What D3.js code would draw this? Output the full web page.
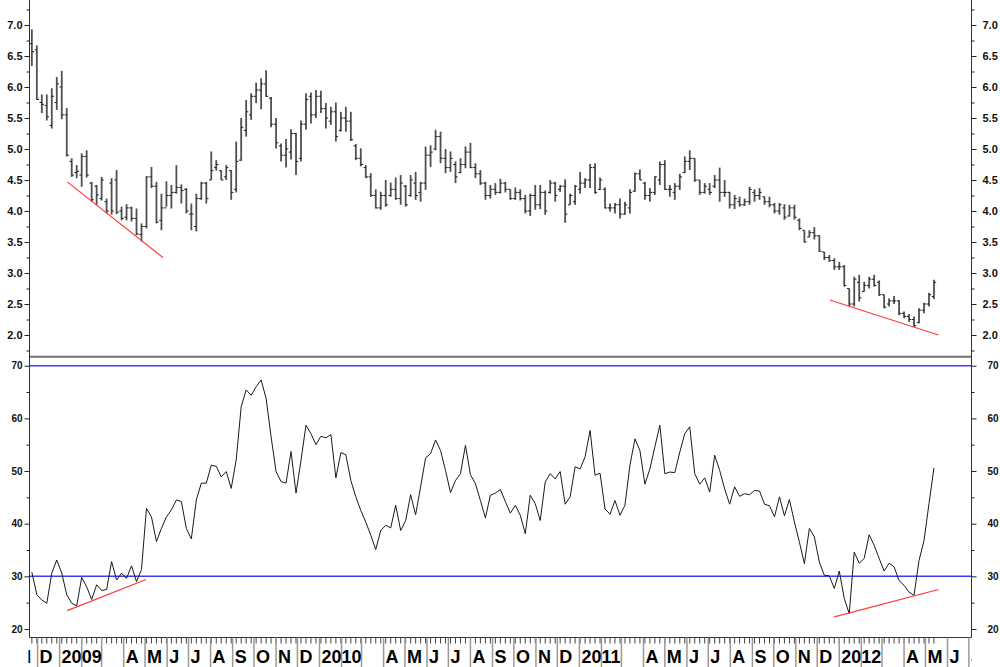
<!DOCTYPE html>
<html lang="en">
<head>
<meta charset="utf-8">
<script src="https://cdn.jsdelivr.net/npm/d3@7"></script>
<style>
    body {
        margin: 0;
        background: #fff;
    }
    svg {
        display: block;
        font-family: Arial, 'Liberation Sans', sans-serif;
    }
    .frame {
        stroke: #333;
        stroke-width: 1;
    }
    .separator {
        stroke: #707070;
        stroke-width: 2;
    }
    .bar-range {
        stroke: #505050;
        stroke-width: 1.8;
    }
    .bar-tick {
        stroke: #1e1e1e;
        stroke-width: 1;
    }
    .rsi-line {
        fill: none;
        stroke: #1a1a1a;
        stroke-width: 1;
    }
    .level {
        stroke: #3c3cff;
        stroke-width: 1.5;
    }
    .trend {
        stroke: #ff3a3a;
        stroke-width: 1.2;
    }
    .price-axis text {
        font-family: Arial, 'Liberation Sans', sans-serif;
        font-size: 11px;
        font-weight: bold;
        fill: #111;
    }
    .rsi-axis text {
        font-family: Arial, 'Liberation Sans', sans-serif;
        font-size: 10px;
        font-weight: bold;
        fill: #111;
    }
    .rsi-axis.right text {
        font-family: 'Liberation Sans Narrow', 'Arial Narrow', Arial, sans-serif;
    }
    .week-tick {
        stroke: #444;
        stroke-width: 1;
    }
    .month-tick {
        stroke: #9a9a9a;
        stroke-width: 1.5;
    }
    .month-label {
        font-size: 18px;
        font-weight: bold;
        fill: #000;
    }
</style>
</head>
<body>
<script>
    // weekly bars, first week of the chart
    var firstWeek = new Date(2008, 10, 23);

    var openP = [
        6.70, 6.60, 5.75, 5.70, 5.38, 5.75, 6.00, 5.55, 4.80, 4.62,
        4.58, 4.88, 4.45, 4.40, 4.20, 4.15, 4.45, 4.50, 4.00, 3.90,
        4.05, 3.88, 3.62, 3.75, 4.55, 4.40, 3.85, 4.05, 4.25, 4.30,
        4.38, 4.35, 3.95, 3.75, 4.20, 4.45, 4.50, 4.70, 4.65, 4.55,
        4.65, 4.35, 4.82, 5.30, 5.55, 5.85, 5.95, 6.05, 5.82, 5.40,
        5.05, 4.90, 4.95, 5.25, 4.85, 5.40, 5.85, 5.55, 5.85, 5.65,
        5.45, 5.60, 5.30, 5.50, 5.45, 5.05, 4.85, 4.70, 4.55, 4.25,
        4.05, 4.25, 4.25, 4.35, 4.20, 4.40, 4.25, 4.45, 4.30, 4.45,
        4.90, 5.00, 5.20, 4.85, 4.70, 4.75, 4.62, 4.75, 4.95, 4.70,
        4.60, 4.45, 4.25, 4.35, 4.30, 4.45, 4.35, 4.20, 4.30, 4.20,
        4.00, 4.25, 4.10, 4.30, 4.30, 4.45, 4.35, 4.40, 4.10, 4.15,
        4.35, 4.45, 4.50, 4.70, 4.35, 4.35, 4.05, 4.05, 4.10, 3.95,
        4.05, 4.32, 4.60, 4.45, 4.25, 4.30, 4.50, 4.75, 4.35, 4.30,
        4.40, 4.62, 4.80, 4.85, 4.50, 4.30, 4.35, 4.40, 4.50, 4.30,
        4.30, 4.10, 4.15, 4.10, 4.15, 4.30, 4.25, 4.23, 4.15, 4.10,
        4.00, 4.05, 3.92, 4.05, 3.85, 3.69, 3.58, 3.65, 3.60, 3.34,
        3.25, 3.20, 3.10, 3.10, 2.75, 2.50, 2.85, 2.70, 2.80, 2.90,
        2.85, 2.65, 2.50, 2.55, 2.55, 2.35, 2.30, 2.25, 2.20, 2.40,
        2.50, 2.62
    ];
    var highP = [
        6.93, 6.67, 5.88, 5.88, 5.98, 6.16, 6.26, 5.66, 4.85, 4.74,
        4.93, 4.98, 4.47, 4.42, 4.55, 4.20, 4.53, 4.66, 4.07, 4.11,
        4.07, 4.04, 3.80, 4.56, 4.71, 4.47, 4.28, 4.48, 4.42, 4.74,
        4.43, 4.37, 4.12, 4.28, 4.47, 4.47, 4.96, 4.82, 4.66, 4.74,
        4.66, 5.12, 5.50, 5.79, 5.90, 6.07, 6.14, 6.27, 5.84, 5.50,
        5.09, 5.16, 5.32, 5.26, 5.46, 5.90, 5.91, 5.95, 5.94, 5.74,
        5.68, 5.75, 5.60, 5.68, 5.60, 5.08, 5.01, 4.74, 4.61, 4.35,
        4.31, 4.50, 4.46, 4.54, 4.58, 4.42, 4.58, 4.63, 4.47, 5.04,
        5.06, 5.31, 5.28, 5.00, 4.96, 4.80, 4.85, 5.04, 5.10, 4.77,
        4.66, 4.47, 4.42, 4.45, 4.52, 4.47, 4.35, 4.38, 4.35, 4.26,
        4.28, 4.42, 4.42, 4.33, 4.50, 4.47, 4.42, 4.51, 4.28, 4.42,
        4.63, 4.53, 4.76, 4.77, 4.54, 4.38, 4.12, 4.13, 4.20, 4.15,
        4.35, 4.62, 4.67, 4.47, 4.37, 4.56, 4.80, 4.82, 4.42, 4.45,
        4.60, 4.88, 4.98, 4.85, 4.50, 4.45, 4.45, 4.58, 4.70, 4.50,
        4.31, 4.26, 4.23, 4.20, 4.39, 4.35, 4.37, 4.23, 4.23, 4.13,
        4.13, 4.11, 4.10, 4.10, 3.88, 3.69, 3.69, 3.74, 3.61, 3.34,
        3.29, 3.24, 3.18, 3.13, 2.75, 2.94, 2.97, 2.86, 2.94, 2.97,
        2.88, 2.65, 2.59, 2.63, 2.56, 2.38, 2.34, 2.30, 2.43, 2.52,
        2.68, 2.89
    ];
    var lowP = [
        6.34, 5.79, 5.58, 5.46, 5.33, 5.63, 5.48, 4.88, 4.55, 4.53,
        4.39, 4.54, 4.15, 4.10, 4.17, 3.96, 3.94, 3.95, 3.85, 3.85,
        3.83, 3.61, 3.51, 3.72, 4.37, 3.80, 3.69, 4.07, 4.04, 4.28,
        4.12, 3.96, 3.69, 3.67, 4.18, 4.12, 4.50, 4.65, 4.50, 4.50,
        4.18, 4.30, 4.81, 5.20, 5.47, 5.74, 5.64, 5.84, 5.35, 5.01,
        4.80, 4.70, 4.83, 4.58, 4.80, 5.31, 5.41, 5.50, 5.58, 5.33,
        5.39, 5.12, 5.28, 5.28, 5.13, 4.82, 4.72, 4.53, 4.23, 4.04,
        4.02, 4.07, 4.23, 4.18, 4.10, 4.07, 4.23, 4.18, 4.15, 4.34,
        4.71, 4.98, 4.77, 4.61, 4.63, 4.45, 4.61, 4.69, 4.69, 4.53,
        4.42, 4.18, 4.20, 4.26, 4.28, 4.30, 4.18, 4.18, 4.17, 3.96,
        3.92, 4.02, 4.03, 3.94, 4.28, 4.15, 4.31, 3.81, 4.10, 4.10,
        4.28, 4.37, 4.37, 4.28, 4.34, 4.04, 3.99, 3.96, 3.88, 3.94,
        3.96, 4.31, 4.50, 4.18, 4.15, 4.26, 4.42, 4.34, 4.23, 4.18,
        4.34, 4.61, 4.66, 4.47, 4.26, 4.28, 4.26, 4.37, 4.15, 4.23,
        4.04, 4.03, 4.07, 4.08, 4.10, 4.15, 4.18, 4.10, 4.06, 3.96,
        3.94, 3.86, 3.91, 3.86, 3.69, 3.49, 3.58, 3.54, 3.34, 3.21,
        3.18, 3.05, 3.05, 2.78, 2.46, 2.46, 2.54, 2.70, 2.75, 2.78,
        2.63, 2.43, 2.46, 2.50, 2.32, 2.27, 2.21, 2.13, 2.19, 2.35,
        2.46, 2.58
    ];
    var closeP = [
        6.57, 5.80, 5.72, 5.52, 5.85, 6.05, 5.55, 4.90, 4.58, 4.64,
        4.88, 4.58, 4.18, 4.26, 4.50, 4.00, 4.00, 3.98, 3.88, 4.05,
        3.88, 3.63, 3.75, 4.55, 4.40, 3.82, 4.05, 4.25, 4.30, 4.38,
        4.33, 4.00, 3.95, 4.20, 4.45, 4.20, 4.65, 4.75, 4.50, 4.70,
        4.30, 4.80, 5.35, 5.60, 5.85, 5.95, 6.05, 5.85, 5.40, 5.10,
        4.90, 5.00, 5.25, 4.80, 5.40, 5.80, 5.55, 5.85, 5.65, 5.50,
        5.60, 5.20, 5.50, 5.45, 5.15, 4.85, 4.75, 4.55, 4.25, 4.05,
        4.25, 4.10, 4.35, 4.20, 4.45, 4.10, 4.50, 4.25, 4.45, 4.90,
        4.95, 5.20, 4.85, 4.70, 4.85, 4.55, 4.75, 4.95, 4.70, 4.60,
        4.45, 4.25, 4.35, 4.30, 4.45, 4.35, 4.20, 4.30, 4.20, 4.00,
        4.25, 4.10, 4.30, 4.00, 4.45, 4.25, 4.40, 3.95, 4.25, 4.40,
        4.45, 4.50, 4.70, 4.30, 4.50, 4.05, 4.05, 4.10, 3.95, 4.10,
        4.30, 4.60, 4.50, 4.25, 4.30, 4.55, 4.75, 4.35, 4.35, 4.40,
        4.55, 4.80, 4.85, 4.50, 4.30, 4.40, 4.30, 4.50, 4.30, 4.30,
        4.10, 4.20, 4.10, 4.15, 4.35, 4.25, 4.30, 4.15, 4.10, 4.00,
        4.10, 3.90, 4.05, 3.90, 3.72, 3.50, 3.65, 3.60, 3.35, 3.25,
        3.20, 3.10, 3.10, 2.80, 2.50, 2.90, 2.60, 2.80, 2.90, 2.80,
        2.65, 2.45, 2.55, 2.55, 2.35, 2.30, 2.25, 2.15, 2.40, 2.50,
        2.65, 2.85
    ];
    var rsi = [
        30.8, 26.5, 25.5, 24.9, 30.6, 33.1, 30.6, 26.5, 24.9, 24.4,
        29.8, 28.0, 25.6, 28.4, 27.3, 27.5, 32.8, 29.3, 30.6, 29.6,
        32.0, 29.0, 31.3, 42.9, 41.3, 36.6, 39.1, 41.3, 42.6, 44.5,
        44.2, 39.1, 37.1, 44.5, 47.7, 47.7, 51.1, 50.9, 48.9, 49.9,
        46.7, 52.1, 62.2, 65.4, 64.4, 66.0, 67.3, 63.8, 56.5, 49.9,
        48.0, 47.7, 53.7, 45.8, 52.0, 58.7, 57.1, 55.0, 56.6, 56.3,
        56.9, 48.7, 53.5, 53.1, 48.2, 45.1, 42.5, 40.3, 37.8, 35.1,
        38.7, 39.7, 39.2, 43.5, 38.7, 40.6, 45.5, 41.7, 47.0, 52.5,
        53.3, 55.9, 53.9, 50.1, 45.9, 48.2, 49.5, 54.9, 49.3, 47.6,
        44.4, 41.1, 45.4, 45.8, 46.5, 44.2, 42.0, 43.5, 41.6, 38.1,
        45.4, 43.8, 40.6, 47.9, 49.5, 48.5, 49.9, 43.7, 45.1, 50.8,
        50.4, 52.7, 57.7, 49.2, 49.6, 42.8, 41.8, 44.4, 41.6, 43.5,
        51.1, 56.1, 53.9, 47.5, 50.4, 54.6, 58.7, 49.5, 49.8, 49.7,
        53.6, 57.1, 58.4, 49.5, 47.5, 48.7, 46.0, 53.0, 50.1, 46.6,
        43.7, 47.0, 45.2, 45.7, 45.5, 46.3, 46.2, 43.7, 43.4, 41.3,
        45.1, 41.5, 44.6, 40.3, 36.5, 32.4, 39.1, 37.5, 32.7, 30.2,
        30.1, 27.7, 31.0, 25.8, 22.9, 34.6, 32.5, 33.4, 37.9, 35.9,
        33.4, 31.0, 32.5, 31.8, 29.2, 28.3, 27.0, 26.4, 33.0, 36.8,
        43.8, 50.6
    ];

    var priceTicks = [2.0, 2.5, 3.0, 3.5, 4.0, 4.5, 5.0, 5.5, 6.0, 6.5, 7.0];
    var rsiTicks = [20, 30, 40, 50, 60, 70];
    var rsiLevels = [30, 70];
    var monthLetters = ["", "", "", "A", "M", "J", "J", "A", "S", "O", "N", "D"];

    // trend lines: [week index from, value from, week index to, value to]
    var priceTrends = [[7.1, 4.47, 26.3, 3.25], [160.1, 2.565, 181.9, 2.0]];
    var rsiTrends = [[7.1, 23.5, 22.9, 29.4], [161.0, 22.3, 181.9, 27.5]];

    var width = 1000;
    var height = 667;
    var left = 29.5, right = 971.5;
    var axisY = 637.5;

    var weeks = d3.range(closeP.length).map(function(i) {
        return d3.timeDay.offset(firstWeek, 7 * i);
    });

    var svg = d3.select("body").append("svg")
        .attr("width", width)
        .attr("height", height);

    // scales
    var x = d3.scaleTime()
        .domain([new Date(2008, 10, 19), new Date(2012, 6, 4)])
        .range([29, 971]);
    var xi = d3.scaleLinear()
        .domain([0, weeks.length - 1])
        .range([x(weeks[0]), x(weeks[weeks.length - 1])]);
    var yP = d3.scaleLinear().domain([2, 7]).range([335, 25]);
    var yR = d3.scaleLinear().domain([20, 70]).range([629, 365.7]);

    // ---- price panel ----
    var bars = svg.append("g").selectAll("g")
        .data(weeks)
        .enter().append("g");

    bars.append("line")
        .attr("class", "bar-range")
        .attr("x1", function(d) { return x(d); })
        .attr("x2", function(d) { return x(d); })
        .attr("y1", function(d, i) { return yP(highP[i]); })
        .attr("y2", function(d, i) { return yP(lowP[i]); });

    bars.append("line")
        .attr("class", "bar-tick")
        .attr("x1", function(d) { return x(d) - 2.2; })
        .attr("x2", function(d) { return x(d); })
        .attr("y1", function(d, i) { return yP(openP[i]); })
        .attr("y2", function(d, i) { return yP(openP[i]); });

    bars.append("line")
        .attr("class", "bar-tick")
        .attr("x1", function(d) { return x(d); })
        .attr("x2", function(d) { return x(d) + 2.2; })
        .attr("y1", function(d, i) { return yP(closeP[i]); })
        .attr("y2", function(d, i) { return yP(closeP[i]); });

    svg.append("g").selectAll("line")
        .data(priceTrends)
        .enter().append("line")
        .attr("class", "trend")
        .attr("x1", function(d) { return xi(d[0]); })
        .attr("y1", function(d) { return yP(d[1]); })
        .attr("x2", function(d) { return xi(d[2]); })
        .attr("y2", function(d) { return yP(d[3]); });

    // ---- RSI panel ----
    svg.append("g").selectAll("line")
        .data(rsiLevels)
        .enter().append("line")
        .attr("class", "level")
        .attr("x1", left)
        .attr("x2", right)
        .attr("y1", function(d) { return yR(d); })
        .attr("y2", function(d) { return yR(d); });

    svg.append("path")
        .datum(rsi)
        .attr("class", "rsi-line")
        .attr("d", d3.line()
            .x(function(d, i) { return x(weeks[i]); })
            .y(function(d) { return yR(d); }));

    svg.append("g").selectAll("line")
        .data(rsiTrends)
        .enter().append("line")
        .attr("class", "trend")
        .attr("x1", function(d) { return xi(d[0]); })
        .attr("y1", function(d) { return yR(d[1]); })
        .attr("x2", function(d) { return xi(d[2]); })
        .attr("y2", function(d) { return yR(d[3]); });

    // ---- frame ----
    svg.append("line").attr("class", "separator")
        .attr("x1", left).attr("x2", right).attr("y1", 356.8).attr("y2", 356.8);
    svg.append("line").attr("class", "frame")
        .attr("x1", left).attr("x2", left).attr("y1", 0).attr("y2", axisY);
    svg.append("line").attr("class", "frame")
        .attr("x1", right).attr("x2", right).attr("y1", 0).attr("y2", axisY);
    svg.append("line").attr("class", "frame")
        .attr("x1", left).attr("x2", right).attr("y1", axisY).attr("y2", axisY);

    // ---- y axes ----
    var priceMinor = d3.range(1.75, 7.3, 0.25);
    var rsiMinor = d3.range(25, 70, 10);

    function noDomain(g) { g.select(".domain").remove(); }

    svg.append("g").attr("class", "price-axis").attr("color", "#222")
        .attr("transform", "translate(" + left + ",0)")
        .call(d3.axisLeft(yP).tickValues(priceMinor).tickSize(3).tickFormat(""))
        .call(noDomain);
    svg.append("g").attr("class", "price-axis").attr("color", "#222")
        .attr("transform", "translate(" + left + ",0)")
        .call(d3.axisLeft(yP).tickValues(priceTicks).tickSize(5).tickPadding(2)
            .tickFormat(d3.format(".1f")))
        .call(noDomain);
    svg.append("g").attr("class", "price-axis").attr("color", "#222")
        .attr("transform", "translate(" + right + ",0)")
        .call(d3.axisRight(yP).tickValues(priceMinor).tickSize(3).tickFormat(""))
        .call(noDomain);
    svg.append("g").attr("class", "price-axis").attr("color", "#222")
        .attr("transform", "translate(" + right + ",0)")
        .call(d3.axisRight(yP).tickValues(priceTicks).tickSize(5).tickPadding(6)
            .tickFormat(d3.format(".1f")))
        .call(noDomain);

    svg.append("g").attr("class", "rsi-axis").attr("color", "#222")
        .attr("transform", "translate(" + left + ",0)")
        .call(d3.axisLeft(yR).tickValues(rsiMinor).tickSize(3).tickFormat(""))
        .call(noDomain);
    svg.append("g").attr("class", "rsi-axis").attr("color", "#222")
        .attr("transform", "translate(" + left + ",0)")
        .call(d3.axisLeft(yR).tickValues(rsiTicks).tickSize(5).tickPadding(2))
        .call(noDomain);
    svg.append("g").attr("class", "rsi-axis right").attr("color", "#222")
        .attr("transform", "translate(" + right + ",0)")
        .call(d3.axisRight(yR).tickValues(rsiMinor).tickSize(3).tickFormat(""))
        .call(noDomain);
    svg.append("g").attr("class", "rsi-axis right").attr("color", "#222")
        .attr("transform", "translate(" + right + ",0)")
        .call(d3.axisRight(yR).tickValues(rsiTicks).tickSize(5).tickPadding(11))
        .call(noDomain);

    // ---- time axis ----
    svg.append("g").selectAll("line")
        .data(weeks)
        .enter().append("line")
        .attr("class", "week-tick")
        .attr("x1", function(d) { return x(d); })
        .attr("x2", function(d) { return x(d); })
        .attr("y1", axisY)
        .attr("y2", axisY + 6);

    var months = d3.timeMonth.range(new Date(2008, 10, 1), new Date(2012, 7, 1));

    svg.append("g").selectAll("line")
        .data(months.filter(function(d) { return x(d) >= 29 && x(d) <= 971; }))
        .enter().append("line")
        .attr("class", "month-tick")
        .attr("x1", function(d) { return x(d); })
        .attr("x2", function(d) { return x(d); })
        .attr("y1", axisY)
        .attr("y2", height);

    svg.append("clipPath").attr("id", "axis-clip")
        .append("rect")
        .attr("x", 28.5).attr("y", axisY).attr("width", 943).attr("height", 40);

    svg.append("g").attr("clip-path", "url(#axis-clip)")
        .selectAll("text")
        .data(months)
        .enter().append("text")
        .attr("class", "month-label")
        .attr("x", function(d) { return x(d) + 2; })
        .attr("y", 663)
        .text(function(d) {
            return d.getMonth() === 0 ? d.getFullYear() : monthLetters[d.getMonth()];
        });
</script>
</body>
</html>
